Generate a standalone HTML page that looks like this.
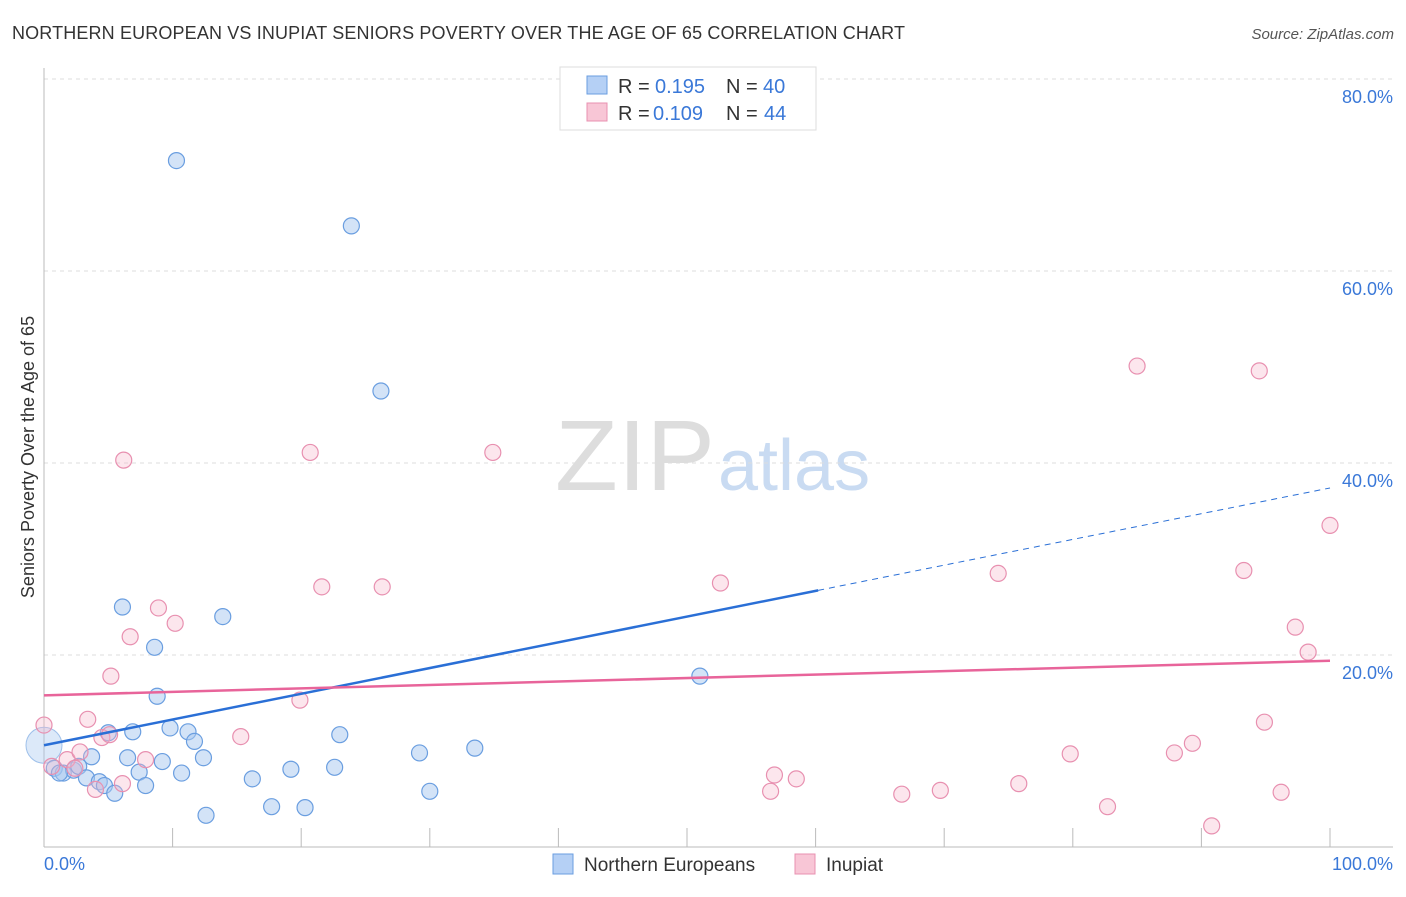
<!DOCTYPE html>
<html><head><meta charset="utf-8"><style>
body{margin:0;background:#fff;font-family:"Liberation Sans",sans-serif;}
svg text{font-family:"Liberation Sans",sans-serif;}
</style></head><body>
<svg id="chart" width="1406" height="892">
<text x="12" y="39" font-size="18" fill="#333" textLength="893">NORTHERN EUROPEAN VS INUPIAT SENIORS POVERTY OVER THE AGE OF 65 CORRELATION CHART</text>
<text x="1394" y="39" font-size="15" fill="#555" font-style="italic" text-anchor="end">Source: ZipAtlas.com</text>
<text x="555" y="490" font-size="100" fill="#ddd" textLength="160" lengthAdjust="spacingAndGlyphs" font-family="Liberation Serif">ZIP</text>
<text x="718" y="490" font-size="72" fill="#c9dbf2">atlas</text>
<text transform="translate(34,457) rotate(-90)" font-size="18" fill="#333" text-anchor="middle">Seniors Poverty Over the Age of 65</text>
<g id="grid"></g><g id="marks"></g><g id="lines"></g>
<g>
<rect x="560" y="67" width="256" height="63" fill="#fff" stroke="#ddd"/>
<rect x="587" y="76" width="20" height="18" fill="#b5d0f5" stroke="#6a9ee0"/>
<rect x="587" y="103" width="20" height="18" fill="#f8c6d6" stroke="#e890b0"/>
<text x="618" y="93" font-size="20" fill="#333">R =</text>
<text x="655" y="93" font-size="20" fill="#3a78d8">0.195</text>
<text x="726" y="93" font-size="20" fill="#333">N =</text>
<text x="763" y="93" font-size="20" fill="#3a78d8">40</text>
<text x="618" y="120" font-size="20" fill="#333">R =</text>
<text x="653" y="120" font-size="20" fill="#3a78d8">0.109</text>
<text x="726" y="120" font-size="20" fill="#333">N =</text>
<text x="764" y="120" font-size="20" fill="#3a78d8">44</text>
</g>
<g>
<rect x="553" y="854" width="20" height="20" fill="#b5d0f5" stroke="#6a9ee0"/>
<text x="584" y="871" font-size="19" fill="#333">Northern Europeans</text>
<rect x="795" y="854" width="20" height="20" fill="#f8c6d6" stroke="#e890b0"/>
<text x="826" y="871" font-size="19" fill="#333">Inupiat</text>
</g>
</svg>
<script>
const yTicks=[20,40,60,80];
const blueX=[10.3,23.9,26.2,6.1,13.9,8.6,8.8,51.0,5.0,6.9,9.8,11.2,11.7,23.0,33.5,29.2,3.7,6.5,9.2,12.4,0.8,1.5,2.3,2.7,7.4,10.7,3.3,4.3,4.7,5.5,7.9,16.2,19.2,22.6,30.0,17.7,20.3,12.6,1.2];
const blueY=[71.5,64.7,47.5,25.0,24.0,20.8,15.7,17.8,11.9,12.0,12.4,12.0,11.0,11.7,10.3,9.8,9.4,9.3,8.9,9.3,8.2,7.7,8.0,8.4,7.8,7.7,7.2,6.8,6.4,5.6,6.4,7.1,8.1,8.3,5.8,4.2,4.1,3.3,7.7];
const pinkX=[85.0,94.5,6.2,20.7,34.9,100,21.6,26.3,52.6,74.2,93.3,8.9,10.2,6.7,97.3,98.3,5.2,19.9,0,3.4,4.5,15.3,94.9,89.3,79.8,87.9,1.8,2.8,7.9,0.6,56.8,58.5,6.1,4.0,56.5,69.7,66.7,75.8,82.7,96.2,90.8,5.1,2.4];
const pinkY=[50.1,49.6,40.3,41.1,41.1,33.5,27.1,27.1,27.5,28.5,28.8,24.9,23.3,21.9,22.9,20.3,17.8,15.3,12.7,13.3,11.4,11.5,13.0,10.8,9.7,9.8,9.1,9.9,9.1,8.4,7.5,7.1,6.6,6.0,5.8,5.9,5.5,6.6,4.2,5.7,2.2,11.7,8.2];
const blueTrend=[10.6,37.4], blueSolidEnd=60.2;
const pinkTrend=[15.8,19.4];
const NS="http://www.w3.org/2000/svg";
const X=v=>44+v*12.86, Y=v=>847-v*9.6;
function mk(t,a,p){const e=document.createElementNS(NS,t);for(const k in a)e.setAttribute(k,a[k]);p.appendChild(e);return e;}
const grid=document.getElementById('grid'),marks=document.getElementById('marks'),lines=document.getElementById('lines');
yTicks.forEach(t=>{
 const l=mk('line',{x1:44,x2:1393,y1:Y(t),y2:Y(t),stroke:'#ddd','stroke-dasharray':'4,4'},grid);
 
 
 const tx=mk('text',{x:1393,y:Y(t)+24,'font-size':18,fill:'#3a78d8','text-anchor':'end'},grid);tx.textContent=t.toFixed(1)+'%';
 
 
});
const ax=mk('line',{x1:44,x2:44,y1:68,y2:847,stroke:'#bbb'},grid);


const bx=mk('line',{x1:44,x2:1393,y1:847,y2:847,stroke:'#bbb'},grid);


for(let i=1;i<=10;i++){const t=mk('line',{x1:X(i*10),x2:X(i*10),y1:828,y2:847,stroke:'#bbb'},grid);
 
 }
const l0=mk('text',{x:44,y:870,'font-size':18,fill:'#3a78d8'},grid);l0.textContent='0.0%';


const l1=mk('text',{x:1393,y:870,'font-size':18,fill:'#3a78d8','text-anchor':'end'},grid);l1.textContent='100.0%';


const big=mk('circle',{cx:X(0),cy:Y(blueTrend[0]),r:18,fill:'rgba(168,200,240,0.4)',stroke:'#9ec0ea'},marks);


blueX.forEach((v,i)=>{const c=mk('circle',{cx:X(v),cy:Y(blueY[i]),r:8,fill:'rgba(168,200,240,0.5)',stroke:'#6a9ee0','stroke-width':1.2},marks);
 
 });
pinkX.forEach((v,i)=>{const c=mk('circle',{cx:X(v),cy:Y(pinkY[i]),r:8,fill:'rgba(245,184,204,0.35)',stroke:'#e890b0','stroke-width':1.2},marks);
 
 });
const bv=x=>blueTrend[0]+(blueTrend[1]-blueTrend[0])*x/100;
const b1=mk('line',{x1:X(0),y1:Y(bv(0)),x2:X(blueSolidEnd),y2:Y(bv(blueSolidEnd)),stroke:'#2a6fd6','stroke-width':2.5},lines);


const b2=mk('line',{x1:X(blueSolidEnd),y1:Y(bv(blueSolidEnd)),x2:X(100),y2:Y(bv(100)),stroke:'#2a6fd6','stroke-width':1,'stroke-dasharray':'6,5'},lines);


const p1=mk('line',{x1:X(0),y1:Y(pinkTrend[0]),x2:X(100),y2:Y(pinkTrend[1]),stroke:'#e8649a','stroke-width':2.5},lines);


</script>
</body></html>
